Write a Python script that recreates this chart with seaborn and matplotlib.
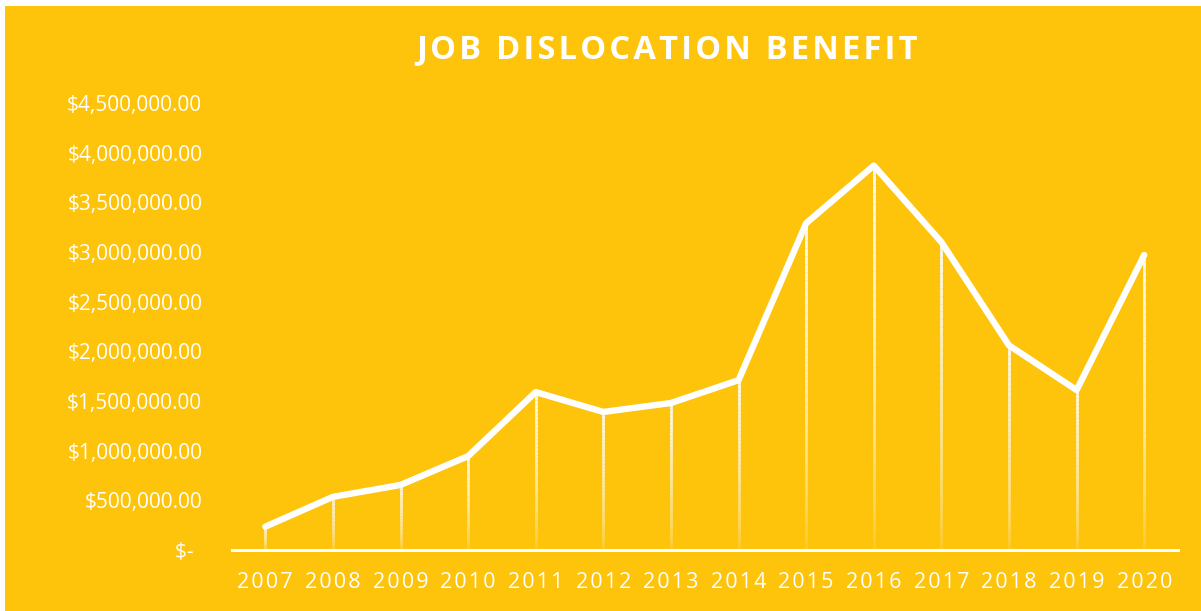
import numpy as np
import pandas as pd
import matplotlib
matplotlib.use("Agg")
import matplotlib.pyplot as plt
from matplotlib.collections import LineCollection
from matplotlib.patches import Rectangle
import seaborn as sns

# ---- data ----
years = ["2007", "2008", "2009", "2010", "2011", "2012", "2013",
         "2014", "2015", "2016", "2017", "2018", "2019", "2020"]
benefit = [235000, 535000, 655000, 945000, 1590000, 1390000, 1480000,
           1710000, 3290000, 3870000, 3100000, 2060000, 1610000, 2970000]
ytick_values = [0, 500000, 1000000, 1500000, 2000000, 2500000,
                3000000, 3500000, 4000000, 4500000]
title = "JOB DISLOCATION BENEFIT"

YELLOW = "#FEC30B"
WHITE = "#FFFFFF"

sns.set_theme(style="white")
plt.rcParams["font.family"] = ["Open Sans", "DejaVu Sans"]

df = pd.DataFrame({"year": years, "benefit": benefit})
df["x"] = np.arange(len(years))

fig = plt.figure(figsize=(12.01, 6.11), dpi=100, facecolor="white")
fig.patches.append(Rectangle((5 / 1201, 0), 1, (611 - 6) / 611,
                             transform=fig.transFigure, facecolor=YELLOW,
                             edgecolor="none", zorder=-10))
ax = fig.add_axes([231.5 / 1201, 61 / 611, 946.5 / 1201, 447 / 611])
ax.set_facecolor("none")

# gradient drop lines
segs, cols = [], []
nseg = 40
for xi, v in zip(df["x"], df["benefit"]):
    ys = np.linspace(0, v, nseg + 1)
    for k in range(nseg):
        segs.append([(xi, ys[k]), (xi, ys[k + 1])])
        a = 0.05 + 0.9 * ((k + 0.5) / nseg) ** 0.6
        cols.append((1, 1, 1, a))
ax.add_collection(LineCollection(segs, colors=cols, linewidths=2.0,
                                 capstyle="butt", zorder=2))

sns.lineplot(data=df, x="x", y="benefit", ax=ax, color=WHITE, lw=4.6,
             zorder=3, solid_capstyle="round", solid_joinstyle="round")

ax.set_xlim(-0.5, len(years) - 0.5)
ax.set_ylim(0, 4500000)
ax.set_xticks(df["x"])
ax.set_xticklabels(["\u200a".join(y) for y in years])
ax.set_yticks(ytick_values)
ax.set_yticklabels(["$-\u2009 " if v == 0 else f"${v:,.2f}" for v in ytick_values])
ax.tick_params(axis="both", length=0, colors=WHITE)
ax.tick_params(axis="y", pad=21, labelsize=15)
ax.tick_params(axis="x", pad=16, labelsize=15.5)
ax.set_xlabel("")
ax.set_ylabel("")
for s in ["left", "right", "top"]:
    ax.spines[s].set_visible(False)
ax.spines["bottom"].set_color(WHITE)
ax.spines["bottom"].set_linewidth(2.2)
ax.spines["bottom"].set_zorder(4)

fig.text(667 / 1201, 1 - 50 / 611, "\u200a".join(title),
         ha="center", va="center", color=WHITE, fontsize=23.5,
         fontweight="bold")

fig.savefig("out.png", dpi=100, facecolor=fig.get_facecolor())
